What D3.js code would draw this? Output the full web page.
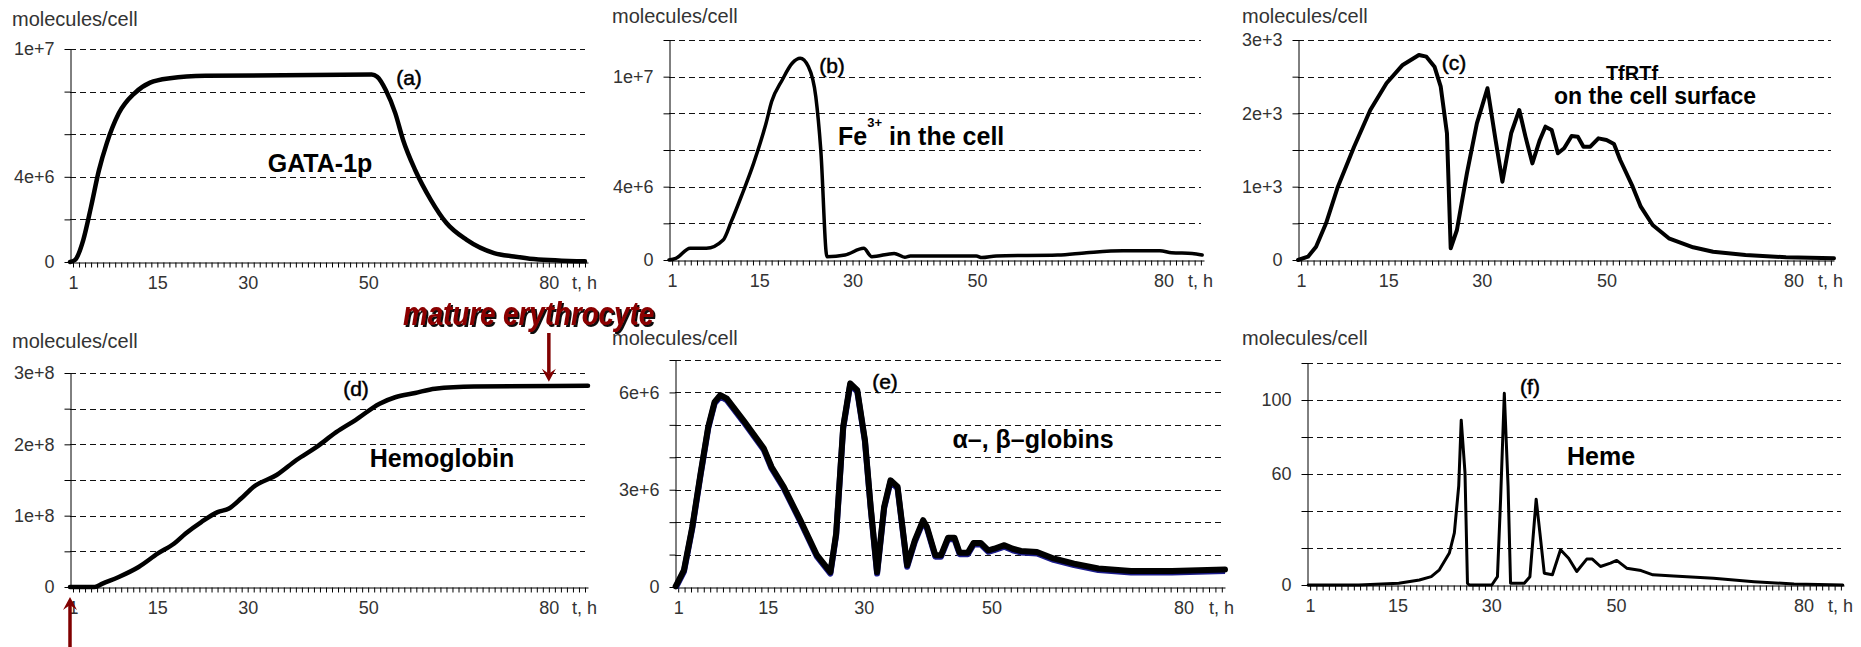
<!DOCTYPE html>
<html>
<head>
<meta charset="utf-8">
<script src="https://cdn.jsdelivr.net/npm/d3@7"></script>
<style>
  body { margin: 0; background: #fff; }
  svg text { font-family: "Liberation Sans", Arial, Helvetica, sans-serif; }
</style>
</head>
<body>
<div id="chart"></div>
<script>
// x ticks: one per hour, labelled only at these hours
var hourTicks = d3.range(1, 87);
var hourLabels = [1, 15, 30, 50, 80];

// (a) GATA-1p
var tGata = [0.5, 1.35, 2.7, 4.0, 5.3, 6.6, 8.6, 11.2, 13.8, 17.1, 23, 50.6, 51.5, 52.9, 54.5, 55.8, 57.8, 60.4, 63, 66.3, 70.9, 74.2, 77.5, 86];
var vGata = [0, 0.1e6, 1.03e6, 2.6e6, 4.3e6, 5.57e6, 6.98e6, 7.92e6, 8.42e6, 8.63e6, 8.74e6, 8.8e6, 8.7e6, 8.09e6, 6.99e6, 5.73e6, 4.32e6, 2.92e6, 1.83e6, 1.05e6, 0.42e6, 0.26e6, 0.14e6, 0.03e6];

// (b) Fe3+ in the cell
var tFe = [0.5, 1.6, 3.9, 6.5, 9.2, 10.5, 12.1, 14.1, 16.1, 17.0, 18.7, 20.3, 21.6, 22.9, 24.1, 24.9, 25.9, 28.8, 31.8, 33.1, 36.7, 38.4, 39.3, 49.9, 50.8, 53.1, 63, 67.6, 73.5, 79.4, 81.3, 84.6, 86.2];
var vFe = [0, 0.09e6, 0.64e6, 0.64e6, 1.09e6, 2.09e6, 3.45e6, 5.27e6, 7.46e6, 8.64e6, 9.82e6, 10.73e6, 11.0e6, 10.55e6, 8.9e6, 6.0e6, 0.18e6, 0.27e6, 0.64e6, 0.18e6, 0.36e6, 0.15e6, 0.22e6, 0.22e6, 0.13e6, 0.22e6, 0.27e6, 0.4e6, 0.51e6, 0.51e6, 0.4e6, 0.36e6, 0.27e6];

// (c) TfRTf on the cell surface
var tTf = [0.5, 2.1, 3.4, 5.0, 6.9, 9.5, 12.1, 14.7, 17.3, 19.9, 21.1, 22.4, 23.4, 24.4, 25.0, 26.0, 27.6, 29.2, 30.9, 32.2, 33.3, 34.7, 36.0, 37.0, 38.1, 39.3, 40.2, 41.2, 42.2, 43.2, 44.4, 45.4, 46.3, 47.4, 48.7, 50.0, 51.2, 52.2, 54.2, 55.5, 57.4, 60.0, 63.9, 67.1, 72.3, 78.8, 86.5];
var vTf = [0, 45, 181, 500, 1000, 1545, 2045, 2410, 2660, 2796, 2773, 2636, 2364, 1728, 160, 409, 1182, 1864, 2342, 1637, 1068, 1728, 2045, 1682, 1318, 1637, 1818, 1773, 1455, 1523, 1691, 1682, 1545, 1545, 1659, 1637, 1582, 1364, 1000, 727, 477, 296, 173, 113, 68, 37, 23];

// (d) Hemoglobin
var tHb = [0.5, 4.6, 5.9, 8.6, 11.9, 15.1, 17.8, 19.7, 22.3, 25.0, 26.9, 28.9, 30.9, 34.8, 38.1, 41.4, 44.7, 47.9, 51.9, 54.5, 57.8, 61.1, 67.6, 86.5];
var vHb = [0, 0, 4.7e6, 14e6, 28e6, 47e6, 61e6, 75e6, 91e6, 105e6, 110e6, 124e6, 140e6, 157e6, 178e6, 196e6, 217e6, 234e6, 257e6, 266e6, 272e6, 278e6, 281e6, 282e6];

// (e) alpha-, beta-globins
var tGlob = [0.6, 1.9, 3.2, 4.5, 5.7, 6.7, 7.6, 8.6, 11.2, 14.4, 15.6, 17.5, 20.1, 22.7, 24.8, 25.7, 26.8, 27.9, 29.0, 30.2, 31.1, 32.1, 33.2, 34.2, 35.3, 36.8, 38.0, 39.3, 39.9, 41.2, 42.1, 43.2, 44.2, 45.0, 46.3, 47.2, 48.3, 49.5, 50.4, 52.0, 53.3, 54.6, 57.1, 59.7, 62.9, 66.7, 71.8, 78.2, 86.5];
var vGlob = [0.02e6, 0.52e6, 1.85e6, 3.5e6, 4.94e6, 5.71e6, 5.92e6, 5.81e6, 5.14e6, 4.27e6, 3.7e6, 3.09e6, 2.06e6, 0.98e6, 0.46e6, 1.65e6, 4.94e6, 6.28e6, 6.07e6, 4.53e6, 2.47e6, 0.46e6, 2.47e6, 3.29e6, 3.09e6, 0.67e6, 1.44e6, 2.06e6, 1.85e6, 0.98e6, 0.98e6, 1.52e6, 1.52e6, 1.06e6, 1.06e6, 1.36e6, 1.36e6, 1.13e6, 1.18e6, 1.29e6, 1.18e6, 1.11e6, 1.08e6, 0.88e6, 0.72e6, 0.57e6, 0.49e6, 0.49e6, 0.54e6];

// (f) Heme
var tHeme = [0.7, 8.8, 15.2, 18.5, 20.4, 21.7, 23.3, 24.1, 24.8, 25.2, 25.8, 26.2, 26.5, 30.1, 31.0, 31.5, 32.1, 32.7, 33.1, 35.3, 36.2, 37.2, 37.8, 38.5, 39.8, 41.1, 42.4, 43.7, 45.3, 46.2, 47.5, 49.1, 50.1, 51.7, 54.0, 55.9, 59.2, 65.6, 72.1, 78.5, 86.3];
var vHeme = [0, 0, 0.9, 2.7, 4.5, 8.2, 17.3, 28.2, 53.6, 89.1, 60.9, 0.9, 0, 0, 4.5, 46, 103.6, 53.6, 0.9, 0.9, 4.5, 46.4, 28.2, 6.4, 5.5, 19.1, 14.5, 7.3, 14, 14, 10, 11.8, 13.3, 9.1, 7.8, 5.5, 4.9, 3.6, 1.8, 0.5, 0];

var W = 1861, H = 647;
var svg = d3.select("#chart").append("svg")
  .attr("width", W)
  .attr("height", H);

// shadow for the red note
var shadow = svg.append("defs").append("filter")
  .attr("id", "shadow")
  .attr("x", "-5%").attr("y", "-20%")
  .attr("width", "110%").attr("height", "140%");
shadow.append("feOffset").attr("in", "SourceAlpha").attr("dx", 2).attr("dy", 2).attr("result", "off");
shadow.append("feFlood").attr("flood-color", "#111").attr("result", "col");
shadow.append("feComposite").attr("in", "col").attr("in2", "off").attr("operator", "in").attr("result", "sh");
var merge = shadow.append("feMerge");
merge.append("feMergeNode").attr("in", "sh");
merge.append("feMergeNode").attr("in", "SourceGraphic");

var expFmt = function(d) { return d === 0 ? "0" : d3.format(".0e")(d); };
var intFmt = function(d) { return String(d); };

// panel layout
var panels = [
  {t: tGata, v: vGata, left: 70, right: 588, top: 49, zero: 262, yMax: 1e7, yStep: 2e6, yLab: [0, 4e6, 1e7], fmt: expFmt, lw: 4.5, smooth: true, ux: 12, uy: 26},
  {t: tFe, v: vFe, left: 669, right: 1204, top: 40, zero: 260, yMax: 12e6, yStep: 2e6, yLab: [0, 4e6, 1e7], fmt: expFmt, lw: 3.5, smooth: true, ux: 612, uy: 23},
  {t: tTf, v: vTf, left: 1298, right: 1834, top: 40, zero: 260, yMax: 3000, yStep: 500, yLab: [0, 1000, 2000, 3000], fmt: expFmt, lw: 4, smooth: false, ux: 1242, uy: 23},
  {t: tHb, v: vHb, left: 70, right: 588, top: 373, zero: 587, yMax: 3e8, yStep: 5e7, yLab: [0, 1e8, 2e8, 3e8], fmt: expFmt, lw: 4.5, smooth: true, ux: 12, uy: 348},
  {t: tGlob, v: vGlob, left: 675, right: 1225, top: 360, zero: 587, yMax: 7e6, yStep: 1e6, yLab: [0, 3e6, 6e6], fmt: expFmt, lw: 6, smooth: false, blue: true, ux: 612, uy: 345},
  {t: tHeme, v: vHeme, left: 1307, right: 1844, top: 363, zero: 585, yMax: 120, yStep: 20, yLab: [0, 60, 100], fmt: intFmt, lw: 3, smooth: false, ux: 1242, uy: 345}
];

var scales = [];

panels.forEach(function(p) {
  var x = d3.scaleLinear().domain([0.5, 86.5]).range([p.left, p.right]);
  var y = d3.scaleLinear().domain([0, p.yMax]).range([p.zero, p.top]);
  scales.push({x: x, y: y});
  var g = svg.append("g");
  var grid = d3.range(p.yStep, p.yMax + p.yStep / 2, p.yStep);

  // dashed gridlines
  g.selectAll(".grid")
    .data(grid)
    .enter()
    .append("line")
    .attr("x1", p.left)
    .attr("x2", p.right - 3)
    .attr("y1", function(d) { return Math.round(y(d)) + 0.5; })
    .attr("y2", function(d) { return Math.round(y(d)) + 0.5; })
    .attr("stroke", "#111")
    .attr("stroke-width", 1)
    .attr("stroke-dasharray", "6,4");

  // x axis
  var xAxis = d3.axisBottom(x)
    .tickValues(hourTicks)
    .tickSize(5)
    .tickSizeOuter(0)
    .tickPadding(9)
    .tickFormat(function(d) { return hourLabels.indexOf(d) >= 0 ? d : ""; });
  var gx = g.append("g")
    .attr("transform", "translate(0," + (Math.round(p.zero) + 0.5) + ")")
    .call(xAxis);
  gx.selectAll("text").attr("font-size", 18).attr("fill", "#333").attr("font-family", null);

  // y axis
  var yAxis = d3.axisLeft(y)
    .tickValues([0].concat(grid))
    .tickSize(6)
    .tickSizeOuter(0)
    .tickPadding(10)
    .tickFormat(function(d) { return p.yLab.indexOf(d) >= 0 ? p.fmt(d) : ""; });
  var gy = g.append("g")
    .attr("transform", "translate(" + (Math.round(p.left) + 0.5) + ",0)")
    .call(yAxis);
  gy.selectAll("text").attr("font-size", 18).attr("fill", "#333").attr("font-family", null);

  g.selectAll(".domain, .tick line").attr("stroke", "#000");

  // unit label and time label
  g.append("text")
    .attr("x", p.ux)
    .attr("y", p.uy)
    .attr("font-size", 20)
    .attr("fill", "#333")
    .text("molecules/cell");
  g.append("text")
    .attr("x", p.right - 16)
    .attr("y", p.zero + 27)
    .attr("font-size", 18)
    .attr("fill", "#333")
    .text("t, h");

  // the curve
  var pts = p.t.map(function(t, i) { return [t, p.v[i]]; });
  var line = d3.line()
    .x(function(d) { return x(d[0]); })
    .y(function(d) { return y(d[1]); })
    .curve(p.smooth ? d3.curveMonotoneX : d3.curveLinear);
  if (p.blue) {
    g.append("path")
      .attr("d", line(pts))
      .attr("transform", "translate(0,1.5)")
      .attr("fill", "none")
      .attr("stroke", "#1c1c8c")
      .attr("stroke-width", p.lw)
      .attr("stroke-linejoin", "round");
  }
  g.append("path")
    .attr("d", line(pts))
    .attr("fill", "none")
    .attr("stroke", "#000")
    .attr("stroke-width", p.lw)
    .attr("stroke-linejoin", "round")
    .attr("stroke-linecap", "round");
});

// labels inside the panels
function note(x, y, txt, size, weight) {
  return svg.append("text")
    .attr("x", x)
    .attr("y", y)
    .attr("text-anchor", "middle")
    .attr("font-size", size)
    .attr("font-weight", weight)
    .attr("fill", "#000")
    .text(txt);
}

note(409, 85, "(a)", 21, "normal").attr("stroke", "#000").attr("stroke-width", 0.5);
note(832, 73, "(b)", 21, "normal").attr("stroke", "#000").attr("stroke-width", 0.5);
note(1454, 70, "(c)", 21, "normal").attr("stroke", "#000").attr("stroke-width", 0.5);
note(356, 396, "(d)", 21, "normal").attr("stroke", "#000").attr("stroke-width", 0.5);
note(885, 389, "(e)", 21, "normal").attr("stroke", "#000").attr("stroke-width", 0.5);
note(1530, 394, "(f)", 21, "normal").attr("stroke", "#000").attr("stroke-width", 0.5);

note(320, 172, "GATA-1p", 25, "bold");
note(442, 467, "Hemoglobin", 25, "bold");
note(1033, 448, "\u03b1\u2013, \u03b2\u2013globins", 25, "bold");
note(1601, 465, "Heme", 25, "bold");
note(1632, 80, "TfRTf", 20, "bold");
note(1655, 104, "on the cell surface", 23, "bold");

var fe = svg.append("text")
  .attr("x", 838)
  .attr("y", 145)
  .attr("font-size", 25)
  .attr("font-weight", "bold")
  .attr("fill", "#000");
fe.append("tspan").text("Fe");
fe.append("tspan").attr("font-size", 13).attr("dy", -18).text("3+");
fe.append("tspan").attr("dy", 18).text(" in the cell");

// mature erythrocyte note, shadow done with a filter
svg.append("text")
  .attr("transform", "translate(403,325) scale(0.84,1)")
  .attr("font-size", 33)
  .attr("font-weight", "bold")
  .attr("font-style", "italic")
  .attr("fill", "#8b0000")
  .attr("filter", "url(#shadow)")
  .text("mature erythrocyte");

// arrows
function arrow(x, yTail, yTip, col) {
  var dir = yTip > yTail ? 1 : -1;
  svg.append("line")
    .attr("x1", x).attr("x2", x)
    .attr("y1", yTail).attr("y2", yTip - dir * 8)
    .attr("stroke", col)
    .attr("stroke-width", 3.5);
  svg.append("path")
    .attr("d", "M" + x + "," + yTip +
      "L" + (x - 7) + "," + (yTip - dir * 13) +
      "L" + x + "," + (yTip - dir * 8) +
      "L" + (x + 7) + "," + (yTip - dir * 13) + "Z")
    .attr("fill", col);
}

var sd = scales[3];
arrow(sd.x(80), 333, sd.y(vHb[vHb.length - 1]) - 4, "#800000");
arrow(sd.x(tHb[0]), H, sd.y(0) + 10, "#800000");
</script>
</body>
</html>
